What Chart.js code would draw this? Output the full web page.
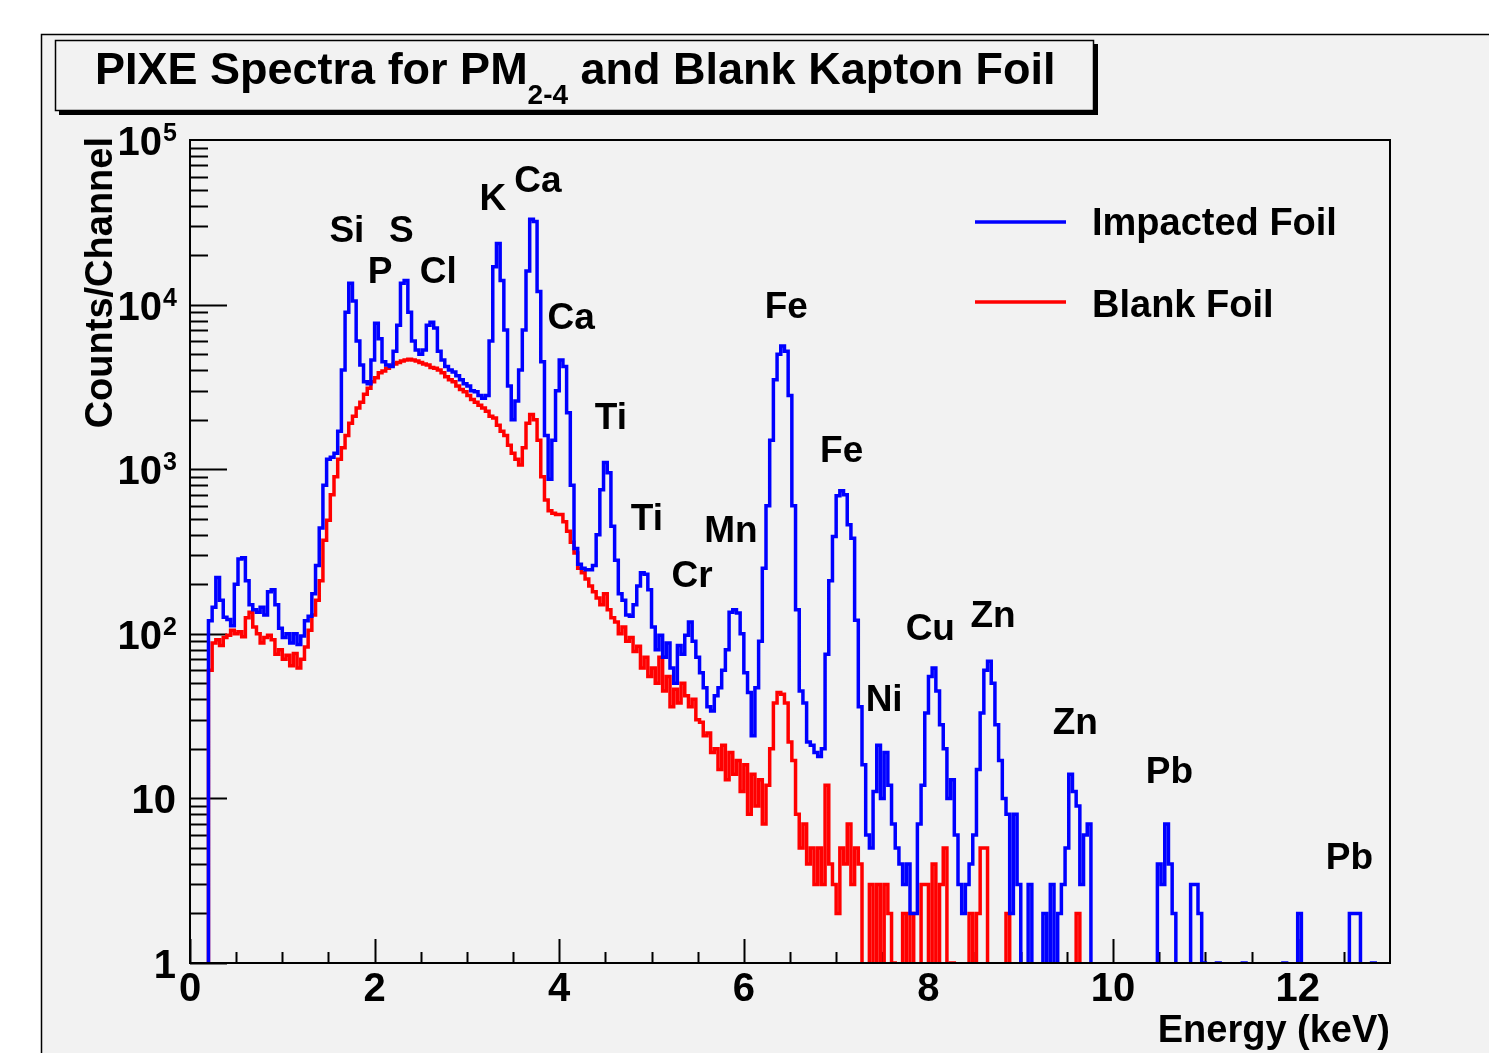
<!DOCTYPE html>
<html>
<head>
<meta charset="utf-8">
<script src="https://cdn.jsdelivr.net/npm/chart.js@4.4.1/dist/chart.umd.min.js"></script>
<style>
html,body{margin:0;padding:0;background:#ffffff;}
#wrap{width:1489px;height:1053px;position:relative;}
canvas{display:block;}
</style>
</head>
<body>
<div id="wrap"><canvas id="c" width="1489" height="1053"></canvas></div>
<script>
// ---- calibration: keV per channel ----
const binWidth = 0.04;

// ---- counts per channel, Impacted Foil ----
const impacted = [
  0,0,0,0,0,120,145,220,160,126,
  122,112,200,285,290,210,150,140,135,145,
  130,180,185,150,108,95,100,88,100,86,
  97,120,128,175,260,440,800,1150,1180,1250,
  1700,4000,9000,13500,10500,6000,4300,3400,3300,4600,
  7700,6200,4500,4300,4200,5200,7500,13500,14000,9000,
  6000,5300,5000,5300,7500,7800,7200,5200,4600,4200,
  4000,3900,3700,3500,3300,3200,3000,2950,2800,2700,
  2800,6000,17000,23500,14000,7000,3200,2000,2600,4000,
  7000,16000,33000,32000,12000,4500,1600,870,1500,3000,
  4600,4200,2200,800,330,265,250,245,245,260,
  400,750,1100,950,450,280,175,160,130,128,
  150,195,235,230,185,110,80,98,72,88,
  62,50,85,75,98,118,90,72,58,47,
  36,34,42,47,60,80,135,140,134,100,
  58,44,24,47,90,250,600,1500,3500,5000,
  5600,5200,2800,600,140,45,38,22,21,19,
  18,20,75,210,390,690,740,700,460,380,
  121,36,16,6,5,11,21,10,19,12,
  7,5,4,3,4,2,2,7,12,33,
  55,62,45,28,20,10,13,6,3,2,
  3,4,6,15,33,60,68,50,28,17,
  10,8,2,8,3,0,0,3,0,0,
  0,2,0,3,0,2,3,5,14,11,
  9,3,6,7,0,0,0,0,0,0,
  0,0,0,0,0,0,0,0,0,0,
  0,0,4,3,7,4,2,0,0,0,
  0,3,3,2,1,0,0,0,1,0,
  0,0,0,0,0,1,0,0,0,0,
  0,0,0,0,0,0,1,0,0,0,
  2,0,0,0,0,0,0,0,0,0,
  0,0,0,0,2,2,2,0,0,0,
  1,0,0,0,0
];

// ---- counts per channel, Blank Foil ----
const blank = [
  0,0,0,0,0,60,88,92,85,95,
  98,105,100,103,96,125,135,110,100,88,
  95,98,92,75,80,70,74,64,76,62,
  70,83,105,130,160,210,370,490,700,900,
  1150,1350,1600,1900,2100,2350,2550,2850,3100,3400,
  3600,3850,3950,4100,4250,4350,4450,4550,4600,4650,
  4600,4550,4450,4350,4300,4150,4100,4000,3850,3650,
  3500,3400,3200,3050,2950,2800,2650,2550,2450,2350,
  2250,2100,2050,1850,1700,1600,1400,1250,1150,1060,
  1350,1900,2150,2000,1500,900,650,560,540,530,
  530,480,420,360,310,250,235,215,195,180,
  165,150,175,140,125,118,100,110,90,95,
  78,84,62,72,55,62,50,72,45,55,
  36,46,38,50,42,36,40,30,29,24,
  25,19,20,15,21,13,19,14,17,11,
  16,8,14,9,13,7,12,20,38,44,
  43,38,22,17,8,5,7,4,5,3,
  5,3,12,4,3,2,5,4,7,3,
  5,4,0,0,3,0,3,0,3,2,
  1,0,0,2,0,2,0,0,3,3,
  0,4,0,3,5,0,1,0,0,0,
  0,2,0,2,5,5,0,0,0,0,
  0,2,0,0,0,0,0,0,0,0,
  0,0,0,0,0,0,0,0,0,0,
  2,0,0,0,0,0,0,0,0,0,
  0,0,0,0,0,0,0,0,0,0,
  0,0,0,0,0,0,0,0,0,0,
  0,0,0,0,0,0,0,0,0,0,
  0,0,0,0,0,0,0,0,0,0,
  0,0,0,0,0,0,0,0,0,0,
  0,0,0,0,0,0,0,0,0,0,
  0,0,0,0,0,0,0,0,0,0,
  0,0,0,0,0
];

const seriesNames = ['Impacted Foil', 'Blank Foil'];

// ---- axes ----
const xRange = [0, 13];
const xMajorTicks = [0, 2, 4, 6, 8, 10, 12];
const xTickLabels = ['0', '2', '4', '6', '8', '10', '12'];
const yRange = [1, 100000];
const yTickValues = [1, 10, 100, 1000, 10000, 100000];
const yTickBase = ['1', '10', '10', '10', '10', '10'];
const yTickExp = ['', '', '2', '3', '4', '5'];

// ---- peak labels (energy in keV, count level of the label baseline) ----
const peakNames  = ['Si','S','P','Cl','K','Ca','Ca','Fe','Ti','Fe','Ti','Mn','Cr','Cu','Zn','Ni','Zn','Pb','Pb'];
const peakEnergy = [1.70,2.29,2.06,2.69,3.28,3.77,4.13,6.46,4.56,7.06,4.95,5.86,5.44,8.02,8.70,7.52,9.59,10.61,12.56];
const peakLevel  = [24000,24000,13500,13500,37600,48300,7100,8300,1750,1100,430,360,192,92,110,34,24.6,12.4,3.7];

// ---- texts ----
const titleMain = 'PIXE Spectra for PM';
const titleSub = '2-4';
const titleRest = ' and Blank Kapton Foil';
const xTitle = 'Energy (keV)';
const yTitle = 'Counts/Channel';

// empty channels sit below the log-axis floor (drawn off-frame, as ROOT does)
const zeroFloor = 0.5;
function toPoints(arr) {
  return arr.map((v, i) => ({ x: (i + 0.5) * binWidth, y: v > 0 ? v : zeroFloor }));
}

const FONT = '"Liberation Sans", Arial, Helvetica, sans-serif';
const bold = (s) => 'bold ' + s + 'px ' + FONT;
const PAD = '#f2f2f2';

const rootStyle = {
  id: 'rootStyle',
  beforeDraw(chart) {
    const c = chart.ctx, W = chart.width, H = chart.height;
    c.save();
    c.fillStyle = '#ffffff'; c.fillRect(0, 0, W, H);
    c.fillStyle = PAD; c.fillRect(41, 34, W - 41, H - 34);
    c.strokeStyle = '#000'; c.lineWidth = 1.5;
    c.beginPath(); c.moveTo(41.5, H); c.lineTo(41.5, 34.5); c.lineTo(W, 34.5); c.stroke();
    // title box with shadow
    c.fillStyle = '#000'; c.fillRect(59, 44, 1039, 71);
    c.fillStyle = PAD; c.fillRect(55, 40, 1039, 71);
    c.lineWidth = 1.5; c.strokeRect(55.5, 40.5, 1038, 70);
    c.fillStyle = '#000'; c.textAlign = 'left'; c.textBaseline = 'alphabetic';
    let x = 95;
    c.font = bold(45); c.fillText(titleMain, x, 84); x += c.measureText(titleMain).width;
    c.font = bold(28); c.fillText(titleSub, x, 104); x += c.measureText(titleSub).width;
    c.font = bold(45); c.fillText(titleRest, x, 84);
    c.restore();
  },
  beforeDatasetsDraw(chart) {
    const c = chart.ctx, a = chart.chartArea, xs = chart.scales.x, ys = chart.scales.y;
    c.save();
    c.strokeStyle = '#000'; c.lineWidth = 2;
    // x ticks (inward)
    for (let k = 0; k < 26; k++) {
      const v = k * 0.5;
      const px = Math.round(xs.getPixelForValue(v)) + 0.5;
      const major = xMajorTicks.indexOf(v) >= 0;
      c.beginPath(); c.moveTo(px, a.bottom); c.lineTo(px, a.bottom - (major ? 24 : 11)); c.stroke();
    }
    // y ticks (inward)
    for (let d = 0; d < 5; d++) {
      for (let m = 1; m <= 9; m++) {
        const v = m * Math.pow(10, d);
        const py = Math.round(ys.getPixelForValue(v)) + 0.5;
        c.beginPath(); c.moveTo(a.left, py); c.lineTo(a.left + (m === 1 ? 37 : 18), py); c.stroke();
      }
    }
    c.restore();
  },
  afterDatasetsDraw(chart) {
    const c = chart.ctx, a = chart.chartArea, xs = chart.scales.x, ys = chart.scales.y;
    c.save();
    // frame
    c.strokeStyle = '#000'; c.lineWidth = 2;
    c.strokeRect(a.left, a.top, a.right - a.left, a.bottom - a.top);
    c.fillStyle = '#000'; c.textBaseline = 'alphabetic';
    // x tick labels
    c.font = bold(40); c.textAlign = 'center';
    xMajorTicks.forEach((v, i) => c.fillText(xTickLabels[i], xs.getPixelForValue(v), 1001));
    // y tick labels
    yTickValues.forEach((v, i) => {
      const py = ys.getPixelForValue(v);
      c.textAlign = 'right';
      if (yTickExp[i]) {
        c.font = bold(25); c.fillText(yTickExp[i], 177, py + 1);
        const w = c.measureText(yTickExp[i]).width;
        c.font = bold(40); c.fillText(yTickBase[i], 177 - w - 1, py + 15);
      } else {
        c.font = bold(40); c.fillText(yTickBase[i], 176, py + 15);
      }
    });
    // axis titles
    c.font = bold(38); c.textAlign = 'right';
    c.fillText(xTitle, a.right, 1042);
    c.save(); c.translate(112, 137); c.rotate(-Math.PI / 2); c.textAlign = 'right';
    c.fillText(yTitle, 0, 0); c.restore();
    // peak labels
    c.font = bold(37); c.textAlign = 'center';
    peakNames.forEach((n, i) => c.fillText(n, xs.getPixelForValue(peakEnergy[i]), ys.getPixelForValue(peakLevel[i])));
    // legend
    const cols = chart.data.datasets.map(d => d.borderColor);
    const ly = [222, 302], ty = [235, 317];
    c.lineWidth = 3.5; c.textAlign = 'left'; c.font = bold(38);
    seriesNames.forEach((n, i) => {
      c.strokeStyle = cols[i];
      c.beginPath(); c.moveTo(975, ly[i]); c.lineTo(1066, ly[i]); c.stroke();
      c.fillText(n, 1092, ty[i]);
    });
    c.restore();
  }
};

new Chart(document.getElementById('c'), {
  type: 'line',
  data: {
    datasets: [
      { label: seriesNames[0], data: toPoints(impacted), borderColor: '#0000ff', borderWidth: 3.5,
        stepped: 'middle', pointRadius: 0, fill: false, borderJoinStyle: 'miter' },
      { label: seriesNames[1], data: toPoints(blank), borderColor: '#ff0000', borderWidth: 3.5,
        stepped: 'middle', pointRadius: 0, fill: false, borderJoinStyle: 'miter' }
    ]
  },
  options: {
    responsive: false, animation: false, devicePixelRatio: 1, events: [],
    layout: { padding: { left: 190, top: 140, right: 99, bottom: 90 } },
    plugins: { legend: { display: false }, title: { display: false }, tooltip: { enabled: false } },
    scales: {
      x: { type: 'linear', min: xRange[0], max: xRange[1], display: false },
      y: { type: 'logarithmic', min: yRange[0], max: yRange[1], display: false }
    }
  },
  plugins: [rootStyle]
});
</script>
</body>
</html>
